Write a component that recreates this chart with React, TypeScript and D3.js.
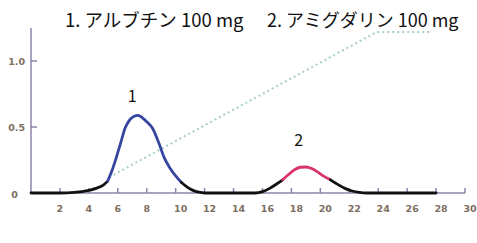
import { useEffect, useRef } from 'react';
import * as d3 from 'd3';

// chromatogram trace: [retention time (min), absorbance]
const trace: [number, number][] = [
  [0, 0], [2, 0], [3, 0.004], [4, 0.02], [4.5, 0.035], [5, 0.06], [5.3, 0.09],
  [5.6, 0.17], [5.9, 0.27], [6.2, 0.38], [6.5, 0.49], [6.8, 0.55], [7.1, 0.58],
  [7.4, 0.588], [7.7, 0.57], [8, 0.54], [8.4, 0.49], [8.8, 0.39], [9.2, 0.27],
  [9.6, 0.19], [10, 0.13], [10.4, 0.08], [10.8, 0.045], [11.2, 0.02], [11.6, 0.006],
  [12, 0], [15.5, 0], [16, 0.01], [16.5, 0.035], [17, 0.07], [17.4, 0.1],
  [17.8, 0.14], [18.2, 0.175], [18.6, 0.195], [19, 0.197], [19.4, 0.185],
  [19.8, 0.16], [20.2, 0.13], [20.7, 0.1], [21.2, 0.065], [21.7, 0.035],
  [22.2, 0.015], [22.7, 0.004], [23.2, 0], [28, 0]
];

// colored segments of the trace [from, to, color]
const segments: [number, number, string][] = [
  [0, 5.3, '#111111'],
  [5.3, 10.4, '#3646a0'],
  [10.4, 17.4, '#111111'],
  [17.4, 20.7, '#d8336c'],
  [20.7, 28, '#111111']
];

// gradient program (dotted)
const gradient: [number, number][] = [[5.4, 0.12], [23.9, 1.22], [27.6, 1.22]];

// peak number labels [text, time, value]
const peakLabels: [string, number, number][] = [['1', 7.0, 0.69], ['2', 18.5, 0.356]];

const xTicks = [2, 4, 6, 8, 10, 12, 14, 16, 18, 20, 22, 24, 26, 28, 30];
const yTicks = [0, 0.5, 1.0];
const yTickLabels = ['0', '0.5', '1.0'];

const titles = ['1. アルブチン 100 mg', '2. アミグダリン 100 mg'];

const App = (): JSX.Element => {
  const svgRef = useRef<SVGSVGElement>(null);

  useEffect(() => {
    if (!svgRef.current) return;
    svgRef.current.innerHTML = '';
    const width = 477;
    const height = 243;

    const x = d3.scaleLinear([0, 30], [31, 465]);
    const y = d3.scaleLinear([0, 1], [193, 61]);

    const svg = d3.select(svgRef.current).attr('width', width).attr('height', height);

    const axisColor = '#8d84ab';
    const labelColor = '#7d6e60';

    // y axis
    svg.append('line').attr('x1', x(0)).attr('x2', x(0)).attr('y1', y(1.25)).attr('y2', y(0))
      .attr('stroke', axisColor).attr('stroke-width', 1.5);
    const yg = svg.append('g');
    yTicks.forEach((t, i) => {
      if (t > 0) {
        yg.append('line').attr('x1', x(0)).attr('x2', x(0) + 6).attr('y1', y(t)).attr('y2', y(t))
          .attr('stroke', axisColor).attr('stroke-width', 1.5);
      }
      yg.append('text')
        .attr('x', t === 0 ? 14.5 : 25)
        .attr('y', y(t) + (t === 0 ? 5 : 3.5))
        .attr('text-anchor', t === 0 ? 'middle' : 'end')
        .attr('font-family', 'DejaVu Sans').attr('font-size', 9.5).attr('font-weight', 'bold')
        .attr('fill', labelColor).text(yTickLabels[i]);
    });

    // x axis
    svg.append('line').attr('x1', x(0)).attr('x2', x(30)).attr('y1', y(0)).attr('y2', y(0))
      .attr('stroke', axisColor).attr('stroke-width', 1.5);
    const xg = svg.append('g');
    xTicks.forEach((t) => {
      xg.append('line').attr('x1', x(t)).attr('x2', x(t)).attr('y1', y(0)).attr('y2', y(0) - 5)
        .attr('stroke', axisColor).attr('stroke-width', 1.5);
      xg.append('text').attr('x', x(t) + (t >= 10 ? 5 : 0)).attr('y', 212).attr('text-anchor', 'middle')
        .attr('font-family', 'DejaVu Sans').attr('font-size', 9.5).attr('font-weight', 'bold')
        .attr('fill', labelColor).text(t);
    });

    // gradient line
    const line = d3.line<[number, number]>().x((d) => x(d[0])).y((d) => y(d[1]));
    svg.append('path').attr('d', line(gradient)).attr('fill', 'none')
      .attr('stroke', '#a6cfc6').attr('stroke-width', 2).attr('stroke-dasharray', '2,3');

    // trace segments
    const curve = d3.line<[number, number]>().x((d) => x(d[0])).y((d) => y(d[1])).curve(d3.curveMonotoneX);
    segments.forEach(([a, b, color]) => {
      const pts = trace.filter((d) => d[0] >= a && d[0] <= b);
      svg.append('path').attr('d', curve(pts)).attr('fill', 'none')
        .attr('stroke', color).attr('stroke-width', 2.8).attr('stroke-linecap', 'round');
    });

    // peak labels
    peakLabels.forEach(([lab, t, v]) => {
      svg.append('text').attr('x', x(t)).attr('y', y(v)).attr('text-anchor', 'middle')
        .attr('font-family', 'Noto Sans CJK JP').attr('font-size', 16).attr('fill', '#111')
        .text(lab);
    });

    // title
    svg.append('text').attr('x', 65).attr('y', 27)
      .attr('font-family', 'Noto Sans CJK JP').attr('font-size', 18.5).attr('fill', '#111')
      .text(titles[0]);
    svg.append('text').attr('x', 267).attr('y', 27)
      .attr('font-family', 'Noto Sans CJK JP').attr('font-size', 18).attr('fill', '#111')
      .text(titles[1]);
  }, []);

  return (
    <div style={{ position: 'fixed', left: 0, top: 0, background: '#fff' }}>
      <svg ref={svgRef} />
    </div>
  );
};

export default App;
